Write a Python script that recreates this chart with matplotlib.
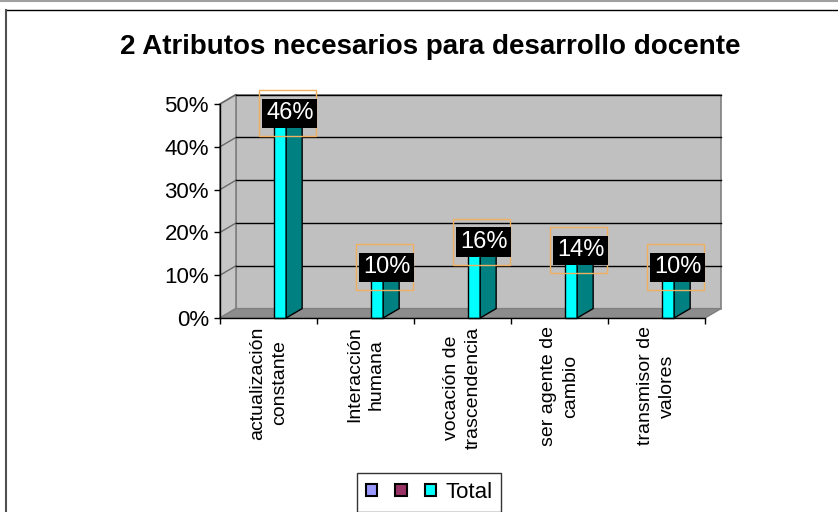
# -------------------------------------------------------------------------- #
# ---------------------------- Imported Modules ---------------------------- #

import numpy as np
import matplotlib
matplotlib.use("Agg")
import matplotlib.pyplot as plt
from matplotlib.patches import Polygon, Rectangle, Patch
from matplotlib.lines import Line2D
from matplotlib.ticker import PercentFormatter
from matplotlib.transforms import ScaledTranslation

# ---------------------------------------------------------------------------#
# ---------------------------------- Data ---------------------------------- #

chartTitle = "2 Atributos necesarios para desarrollo docente"
categories = ["actualización\nconstante", "Interacción\nhumana",
              "vocación de\ntrascendencia", "ser agente de\ncambio",
              "transmisor de\nvalores"]
totalValues = [46, 10, 16, 14, 10]
yTicks = [0, 10, 20, 30, 40, 50]
legendLabels = ["", "", "Total"]
legendColors = ["#9999FF", "#993366", "#00FFFF"]

# ---------------------------------------------------------------------------#
# --------------------------------- Styling -------------------------------- #

plt.rcParams['font.family'] = ['Liberation Sans', 'DejaVu Sans']
figW, figH = 838, 512
wallColor = "#C0C0C0"
floorColor = "#8C8C8C"
edgeGray = "#808080"
barFront = "#00FFFF"
barSide = "#008080"
labelEdge = "#F0B060"

# Depth of the pseudo 3D box (data units)
depthX = 16/97
depthY = 2.2
barStart, barWidth = 0.557, 0.125

fig = plt.figure(figsize=(figW/100, figH/100), dpi=100)
ax = fig.add_axes([220/figW, 1 - 318/figH, 485/figW, 214/figH])
ax.set_xlim(0, len(categories))
ax.set_ylim(yTicks[0], yTicks[-1])
ax.patch.set_visible(False)

nCat = len(categories)
yTop = yTicks[-1]

# ---------------------------------------------------------------------------#
# ------------------------------- Walls/Floor ------------------------------ #

backWall = Polygon([(depthX, depthY), (nCat + depthX, depthY),
                    (nCat + depthX, yTop + depthY), (depthX, yTop + depthY)],
                   closed=True, fc=wallColor, ec=edgeGray, lw=1.2, clip_on=False, zorder=0)
sideWall = Polygon([(0, 0), (depthX, depthY), (depthX, yTop + depthY), (0, yTop)],
                   closed=True, fc="#C6C6C6", ec=edgeGray, lw=1.2, clip_on=False, zorder=0)
floorPoly = Polygon([(0, 0), (nCat, 0), (nCat + depthX, depthY), (depthX, depthY)],
                    closed=True, fc=floorColor, ec=edgeGray, lw=1.0, clip_on=False, zorder=0.5)
for patch in (backWall, sideWall, floorPoly):
    ax.add_patch(patch)

# Gridlines on the side and back walls
for tickVal in yTicks[1:]:
    ax.plot([0, depthX], [tickVal, tickVal + depthY], color="#6A6A6A", lw=1.0,
            clip_on=False, zorder=0.8)
    ax.plot([depthX, nCat + depthX], [tickVal + depthY, tickVal + depthY], color="black",
            lw=1.0, clip_on=False, zorder=0.8)

# ---------------------------------------------------------------------------#
# ---------------------------------- Bars ---------------------------------- #

for catInd, barVal in enumerate(totalValues):
    x0 = catInd + barStart
    x1 = x0 + barWidth
    ax.add_patch(Rectangle((x0, 0), barWidth, barVal, fc=barFront, ec="black",
                           lw=1.0, clip_on=False, zorder=2))
    ax.add_patch(Polygon([(x1, 0), (x1 + depthX, depthY), (x1 + depthX, barVal + depthY), (x1, barVal)],
                         closed=True, fc=barSide, ec="black", lw=1.0, clip_on=False, zorder=2))
    ax.add_patch(Polygon([(x0, barVal), (x1, barVal), (x1 + depthX, barVal + depthY), (x0 + depthX, barVal + depthY)],
                         closed=True, fc=barFront, ec="black", lw=1.0, clip_on=False, zorder=2))

    # Data labels: orange outline box (fixed pixel size) behind a black label box
    labelX = catInd + 0.72
    labelY = barVal + 1.8
    boxTrans = fig.dpi_scale_trans + ScaledTranslation(labelX, labelY, ax.transData)
    ax.add_patch(Rectangle((-0.31, -0.23), 0.57, 0.46, transform=boxTrans, fc="none",
                           ec=labelEdge, lw=1.0, clip_on=False, zorder=3))
    ax.annotate(f"{barVal}%", (labelX, labelY), ha="center", va="center", fontsize=17,
                color="white", zorder=4,
                bbox=dict(boxstyle="square,pad=0.16", fc="black", ec="black", lw=0))

# ---------------------------------------------------------------------------#
# ---------------------------------- Axes ---------------------------------- #

for side in ("top", "right"):
    ax.spines[side].set_visible(False)
ax.spines["left"].set_linewidth(1.0)
ax.spines["bottom"].set_linewidth(1.0)
ax.spines["left"].set_zorder(2.5)
ax.spines["bottom"].set_zorder(2.5)

ax.set_yticks(yTicks)
ax.yaxis.set_major_formatter(PercentFormatter(decimals=0))
ax.tick_params(axis="y", direction="out", length=4, width=1.0, pad=4, labelsize=16)

ax.set_xticks(np.arange(nCat + 1))
ax.set_xticklabels([])
ax.set_xticks(np.arange(nCat) + 0.5, minor=True)
ax.set_xticklabels(categories, minor=True, rotation=90, ha="center", va="top",
                   multialignment="center", fontsize=14, linespacing=1.35)
ax.tick_params(axis="x", which="major", direction="out", length=4, width=1.0)
ax.tick_params(axis="x", which="minor", length=0, pad=6)

# ---------------------------------------------------------------------------#
# ------------------------------ Title/Legend ------------------------------ #

fig.text(430/figW, 1 - 47/figH, chartTitle, ha="center", va="center",
         fontsize=20, fontweight="bold")

legendHandles = [Patch(fc=legendColor, ec="black", lw=1.5) for legendColor in legendColors]
fig.legend(legendHandles, legendLabels, loc="upper left", bbox_to_anchor=(357/figW, 1 - 473/figH),
           ncol=3, fontsize=16, frameon=True, fancybox=False, edgecolor="black",
           handlelength=0.52, handleheight=0.52, handletextpad=0.4, columnspacing=0.4,
           borderpad=0.4, borderaxespad=0).get_frame().set_linewidth(1.0)

# Frame lines of the chart area
fig.add_artist(Line2D([0, 1], [1 - 0.8/figH, 1 - 0.8/figH], transform=fig.transFigure,
                      color="#A0A0A0", lw=1.5))
fig.add_artist(Line2D([5.5/figW, 1], [1 - 9.5/figH, 1 - 9.5/figH], transform=fig.transFigure,
                      color="black", lw=1.0))
fig.add_artist(Line2D([5.5/figW, 5.5/figW], [0, 1 - 9.5/figH], transform=fig.transFigure,
                      color="#505050", lw=1.5))

fig.savefig("out.png", dpi=100)
